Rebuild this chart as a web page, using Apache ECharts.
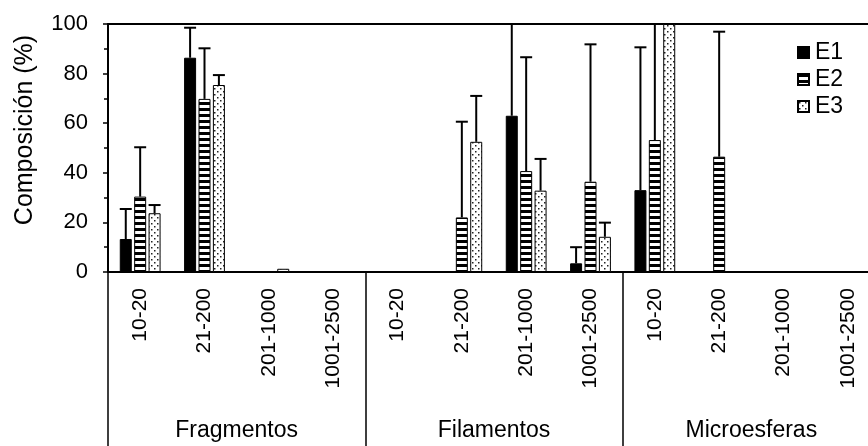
<!DOCTYPE html>
<html>
<head>
<meta charset="utf-8">
<script src="https://cdn.jsdelivr.net/npm/echarts@6/dist/echarts.min.js"></script>
<style>html,body{margin:0;padding:0;background:#fff}#c{width:868px;height:446px}</style>
</head>
<body>
<div id="c"></div>
<script>
// ---- data ----
const categories = ['10-20','21-200','201-1000','1001-2500','10-20','21-200','201-1000','1001-2500','10-20','21-200','201-1000','1001-2500'];
const groups = ['Fragmentos','Filamentos','Microesferas'];
const yTicks = [0, 20, 40, 60, 80, 100];
const e1 = [13.3, 86.4, null, null, null, null, 63.0, 3.5, 33.0, null, null, null];
const e2 = [30.4, 69.8, null, null, null, 22.0, 40.7, 36.4, 53.2, 46.5, null, null];
const e3 = [23.7, 75.4, 1.3, null, null, 52.5, 32.8, 14.2, 100, null, null, null];
// upper end of error bars
const e1Hi = [25.4, 98.5, null, null, null, null, 120, 10.0, 90.6, null, null, null];
const e2Hi = [50.3, 90.2, null, null, null, 60.6, 86.6, 91.8, 115, 96.9, null, null];
const e3Hi = [27.0, 79.4, null, null, null, 71.0, 45.6, 19.9, null, null, null, null];

// ---- patterns ----
function stripePattern() {
  const c = document.createElement('canvas'); c.width = 6; c.height = 6;
  const g = c.getContext('2d');
  g.fillStyle = '#fff'; g.fillRect(0, 0, 6, 6);
  g.fillStyle = '#000'; g.fillRect(0, 0, 6, 3);
  return c;
}
function dotPattern() {
  const c = document.createElement('canvas'); c.width = 6; c.height = 6;
  const g = c.getContext('2d');
  g.fillStyle = '#fff'; g.fillRect(0, 0, 6, 6);
  g.fillStyle = '#222';
  g.fillRect(1, 1, 1.5, 1.5);
  g.fillRect(4, 4, 1.5, 1.5);
  return c;
}

const BAR_W = 12, GAP = 2.4;
function errSeries(name, vals, his, k) {
  const data = [];
  vals.forEach((v, i) => { if (v != null && his[i] != null) data.push([i, v, his[i]]); });
  const off = (k - 1) * (BAR_W + GAP);
  return {
    name: name, type: 'custom', xAxisIndex: 0, yAxisIndex: 0, clip: true, z: 5,
    data: data,
    renderItem: function (params, api) {
      const p0 = api.coord([api.value(0), api.value(1)]);
      const p1 = api.coord([api.value(0), api.value(2)]);
      const cx = p0[0] + off;
      return {
        type: 'group',
        children: [
          { type: 'line', shape: { x1: cx, y1: p0[1], x2: cx, y2: p1[1] }, style: { stroke: '#000', lineWidth: 2 } },
          { type: 'line', shape: { x1: cx - 6, y1: p1[1], x2: cx + 6, y2: p1[1] }, style: { stroke: '#000', lineWidth: 2 } }
        ]
      };
    }
  };
}

const FONT = 'Liberation Sans, Arial, sans-serif';
const chart = echarts.init(document.getElementById('c'), null, { renderer: 'canvas' });
chart.setOption({
  animation: false,
  backgroundColor: '#fff',
  textStyle: { fontFamily: FONT, color: '#000' },
  grid: { left: 108, top: 24, width: 772, height: 248, outerBoundsMode: 'none', containLabel: false },
  legend: {
    data: ['E1', 'E2', 'E3'],
    orient: 'vertical', left: 797, top: 41, padding: 0,
    itemWidth: 11, itemHeight: 11, itemGap: 4,
    icon: 'rect',
    textStyle: { fontSize: 23, color: '#000', fontFamily: FONT, lineHeight: 23, padding: [0, 0, 0, 1] }
  },
  xAxis: [
    {
      type: 'category', data: categories, position: 'bottom',
      axisLine: { show: true, onZero: false, lineStyle: { color: '#000', width: 2 } },
      axisTick: { show: true, interval: function (i) { return i % 4 === 0; }, length: 174, lineStyle: { color: '#000', width: 1.5 } },
      axisLabel: { interval: 0, rotate: 90, fontSize: 21, color: '#000', margin: 16, fontFamily: FONT },
      splitLine: { show: false }
    },
    {
      type: 'category', data: categories, position: 'top',
      axisLine: { show: true, onZero: false, lineStyle: { color: '#000', width: 2 } },
      axisTick: { show: false }, axisLabel: { show: false }, splitLine: { show: false }
    },
    {
      type: 'category', data: groups, position: 'bottom',
      axisLine: { show: false, onZero: false }, axisTick: { show: false },
      axisLabel: { interval: 0, fontSize: 23, color: '#000', margin: 147, fontFamily: FONT },
      splitLine: { show: false }
    }
  ],
  yAxis: {
    type: 'value', min: yTicks[0], max: yTicks[yTicks.length - 1], interval: 20,
    axisLine: { show: true, lineStyle: { color: '#000', width: 2 } },
    axisTick: { show: true, length: 5, lineStyle: { color: '#000', width: 1.5 } },
    minorTick: { show: true, splitNumber: 2, length: 4, lineStyle: { color: '#000', width: 1.5 } },
    axisLabel: { fontSize: 22, color: '#000', margin: 20, fontFamily: FONT },
    splitLine: { show: false }
  },
  graphic: [{
    type: 'text', x: 25, y: 130, rotation: Math.PI / 2,
    style: { text: 'Composición (%)', fontSize: 25, fontFamily: FONT, fill: '#000', align: 'center', verticalAlign: 'middle' }
  }],
  series: [
    { name: 'E1', type: 'bar', data: e1, barWidth: BAR_W, barGap: '20%',
      itemStyle: { color: '#000', borderColor: '#000', borderWidth: 1 } },
    { name: 'E2', type: 'bar', data: e2, barWidth: BAR_W, barGap: '20%',
      itemStyle: { color: { image: stripePattern(), repeat: 'repeat' }, borderColor: '#000', borderWidth: 1 } },
    { name: 'E3', type: 'bar', data: e3, barWidth: BAR_W, barGap: '20%',
      itemStyle: { color: { image: dotPattern(), repeat: 'repeat' }, borderColor: '#000', borderWidth: 1 } },
    errSeries('errE1', e1, e1Hi, 0),
    errSeries('errE2', e2, e2Hi, 1),
    errSeries('errE3', e3, e3Hi, 2)
  ]
});
</script>
</body>
</html>
